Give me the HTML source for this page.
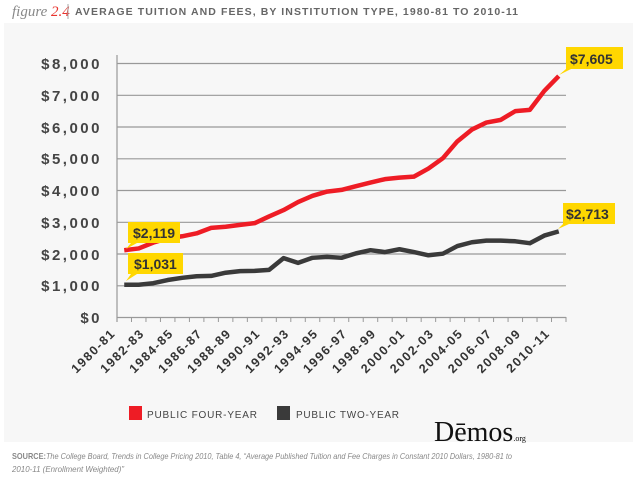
<!DOCTYPE html><html><head><style>body{margin:0;width:633px;height:482px;background:#fff;overflow:hidden}</style></head><body>
<svg width="633" height="482" xmlns="http://www.w3.org/2000/svg" font-family="Liberation Sans, sans-serif">
<rect x="4" y="23" width="629" height="419" fill="#f7f7f7"/>
<text x="12" y="16" font-family="Liberation Serif, serif" font-style="italic" font-size="15" fill="#888">figure <tspan fill="#e8332d">2.4</tspan></text>
<line x1="68" y1="4" x2="68" y2="19" stroke="#aaa"/>
<text x="75" y="15" font-size="10.5" font-weight="bold" fill="#666" textLength="443" lengthAdjust="spacing">AVERAGE TUITION AND FEES, BY INSTITUTION TYPE, 1980-81 TO 2010-11</text>
<g stroke="#999" stroke-width="1.2">
<line x1="117" y1="63.5" x2="566" y2="63.5"/><line x1="117" y1="95.3" x2="566" y2="95.3"/><line x1="117" y1="127" x2="566" y2="127"/><line x1="117" y1="158.8" x2="566" y2="158.8"/><line x1="117" y1="190.5" x2="566" y2="190.5"/><line x1="117" y1="222.3" x2="566" y2="222.3"/><line x1="117" y1="254" x2="566" y2="254"/><line x1="117" y1="285.8" x2="566" y2="285.8"/><line x1="117" y1="317.5" x2="566" y2="317.5"/><line x1="117" y1="55" x2="117" y2="322"/>
</g>
<g id="ticks" stroke="#999"></g>
<g font-size="15" font-weight="bold" fill="#444" text-anchor="end" letter-spacing="2.5">
<text x="102" y="69">$8,000</text><text x="102" y="101">$7,000</text><text x="102" y="133">$6,000</text><text x="102" y="164">$5,000</text><text x="102" y="196">$4,000</text><text x="102" y="228">$3,000</text><text x="102" y="260">$2,000</text><text x="102" y="291">$1,000</text><text x="102" y="323">$0</text>
</g>
<g id="xl" font-size="12.5" font-weight="bold" fill="#333" letter-spacing="1.5" text-anchor="end"></g>
<polyline id="r" fill="none" stroke="#ee1c25" stroke-width="4.5" stroke-linejoin="round"/>
<polyline id="d" fill="none" stroke="#3a3a3a" stroke-width="4.5" stroke-linejoin="round"/>
<g font-size="14" font-weight="bold" fill="#333">
<rect x="566" y="47" width="57" height="22" fill="#ffd700"/><polygon points="566,62 566,69 559,75 571,69" fill="#ffd700"/><text x="570" y="64">$7,605</text>
<rect x="563" y="203" width="52" height="21" fill="#ffd700"/><polygon points="563,218 563,224 558,229 569,224" fill="#ffd700"/><text x="566" y="219">$2,713</text>
<rect x="128" y="222" width="52" height="21" fill="#ffd700"/><polygon points="131,238 131,243 126,249 137,243" fill="#ffd700"/><text x="133" y="238">$2,119</text>
<rect x="128" y="253" width="55" height="21" fill="#ffd700"/><polygon points="131,269 131,274 126,281 137,274" fill="#ffd700"/><text x="134" y="269">$1,031</text>
</g>
<rect x="129" y="406" width="13" height="14" fill="#ee1c25"/>
<text x="147" y="418" font-size="10" fill="#444" textLength="110" lengthAdjust="spacing">PUBLIC FOUR-YEAR</text>
<rect x="277" y="406" width="13" height="14" fill="#3a3a3a"/>
<text x="296" y="418" font-size="10" fill="#444" textLength="103" lengthAdjust="spacing">PUBLIC TWO-YEAR</text>
<text x="434" y="441" font-family="Liberation Serif, serif" font-size="28" fill="#111">Dēmos<tspan font-size="8">.org</tspan></text>
<text x="12" y="459" font-size="8.5" fill="#888" font-style="italic" textLength="500" lengthAdjust="spacingAndGlyphs"><tspan font-style="normal" font-weight="bold">SOURCE:</tspan>The College Board, Trends in College Pricing 2010, Table 4, “Average Published Tuition and Fee Charges in Constant 2010 Dollars, 1980-81 to</text>
<text x="12" y="472" font-size="8.5" fill="#888" font-style="italic" textLength="112" lengthAdjust="spacingAndGlyphs">2010-11 (Enrollment Weighted)”</text>
</svg>
<script>
var r=[2119,2175,2358,2492,2558,2651,2822,2858,2918,2971,3184,3382,3636,3832,3966,4019,4136,4250,4357,4407,4437,4692,5018,5549,5919,6139,6225,6500,6538,7136,7605];
var d=[1031,1033,1080,1180,1250,1300,1310,1410,1460,1470,1500,1870,1720,1880,1910,1880,2020,2120,2060,2150,2060,1960,2010,2250,2370,2420,2420,2400,2340,2580,2713];
var step=449/31,X=i=>117+step*(i+.5),Y=v=>317.5-v*254/8000;
document.getElementById('r').setAttribute('points',r.map((v,i)=>X(i)+','+Y(v)).join(' '));
document.getElementById('d').setAttribute('points',d.map((v,i)=>X(i)+','+Y(v)).join(' '));
var t='',l='';
for(var i=0;i<=31;i++){var x=117+step*i;t+='<line x1="'+x+'" y1="317" x2="'+x+'" y2="322"/>';}
for(var i=0;i<31;i+=2){var y=1980+i,x=X(i)-8,lab=y+'-'+String((y+1)%100).padStart(2,'0');l+='<text transform="translate('+x+',334) rotate(-45)">'+lab+'</text>';}
document.getElementById('ticks').innerHTML=t;document.getElementById('xl').innerHTML=l;
</script>
</body></html>
